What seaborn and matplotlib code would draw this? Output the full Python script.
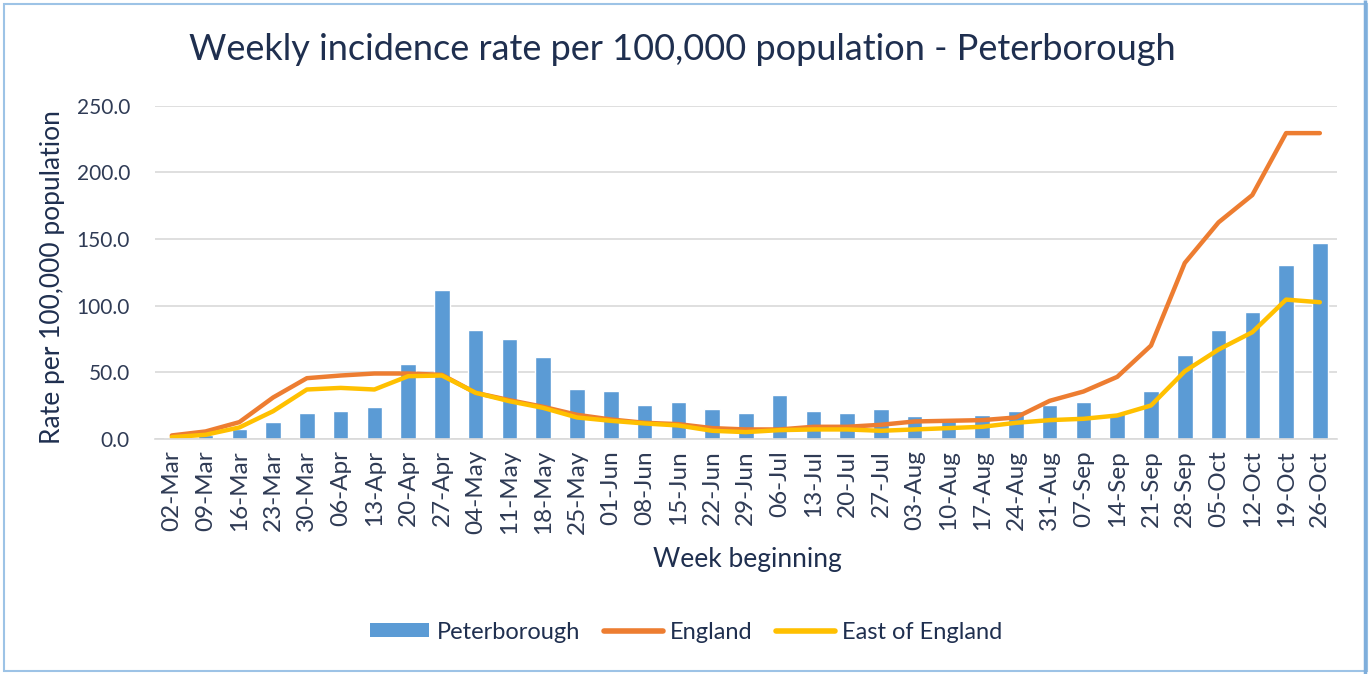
import numpy as np
import pandas as pd
import matplotlib
matplotlib.use("Agg")
import matplotlib.pyplot as plt
import seaborn as sns
from matplotlib.patches import Rectangle, Patch
from matplotlib.lines import Line2D

weeks = ["02-Mar", "09-Mar", "16-Mar", "23-Mar", "30-Mar", "06-Apr", "13-Apr", "20-Apr",
         "27-Apr", "04-May", "11-May", "18-May", "25-May", "01-Jun", "08-Jun", "15-Jun",
         "22-Jun", "29-Jun", "06-Jul", "13-Jul", "20-Jul", "27-Jul", "03-Aug", "10-Aug",
         "17-Aug", "24-Aug", "31-Aug", "07-Sep", "14-Sep", "21-Sep", "28-Sep", "05-Oct",
         "12-Oct", "19-Oct", "26-Oct"]
peterborough = [0.8, 2.5, 7.5, 12.5, 19.2, 20.7, 24.0, 56.3, 112.0, 81.5, 74.7, 61.5,
                37.7, 36.0, 25.7, 27.5, 22.5, 19.2, 32.7, 20.7, 19.2, 22.5, 17.0, 15.7,
                17.5, 20.7, 25.7, 27.5, 19.2, 36.0, 63.0, 81.7, 95.2, 130.5, 147.2]
england = [2.5, 5.5, 12.5, 31.0, 45.5, 47.5, 49.0, 49.0, 48.0, 34.5, 29.0, 24.0,
           18.0, 14.5, 12.0, 11.0, 8.0, 7.0, 7.0, 9.0, 9.0, 10.5, 13.0, 13.5,
           14.0, 16.0, 28.5, 35.5, 46.5, 70.0, 132.0, 162.5, 183.0, 229.5, 229.5]
east_of_england = [1.2, 3.0, 8.5, 20.7, 37.0, 38.2, 37.0, 47.0, 47.5, 34.5, 28.2, 23.2,
                   16.0, 13.5, 11.5, 10.0, 6.0, 5.0, 6.5, 7.0, 7.0, 6.0, 7.0, 8.0,
                   9.0, 12.0, 14.0, 15.0, 17.5, 25.0, 50.7, 67.0, 80.0, 104.5, 102.5]
y_ticks = [0, 50, 100, 150, 200, 250]

title = "Weekly incidence rate per 100,000 population - Peterborough"
xlabel = "Week beginning"
ylabel = "Rate per 100,000 population"

BAR = "#5B9BD5"
ENG = "#ED7D31"
EOE = "#FFC000"
TXT = "#1F2F4F"
TICK = "#2F3B55"
GRID = "#D9D9D9"

sns.set_theme(style="white")
plt.rcParams["font.family"] = ["Lato", "DejaVu Sans"]

df = pd.DataFrame({"week": weeks, "pos": np.arange(len(weeks)),
                   "Peterborough": peterborough, "England": england,
                   "East of England": east_of_england})

fig = plt.figure(figsize=(13.71, 6.74), dpi=100)
fig.patches.append(Rectangle((0.003, 0.004), 0.994, 0.99, transform=fig.transFigure,
                             fill=False, edgecolor="#9DC3E6", linewidth=1.5))
fig.patches.append(Rectangle((0.9955, 0.0), 0.0, 1.0, transform=fig.transFigure,
                             fill=False, edgecolor="#7FAEDB", linewidth=2.5))
ax = fig.add_axes([0.113, 0.349, 0.862, 0.494])

sns.barplot(data=df, x="pos", y="Peterborough", color=BAR, width=0.46,
            saturation=1, ax=ax, native_scale=True)
sns.lineplot(data=df, x="pos", y="England", color=ENG, linewidth=3.2, ax=ax,
             sort=False, solid_capstyle="round")
sns.lineplot(data=df, x="pos", y="East of England", color=EOE, linewidth=3.2, ax=ax,
             sort=False, solid_capstyle="round")

n = len(weeks)
ax.set_xlim(-0.5, n - 0.5)
ax.set_ylim(0, 250)
ax.set_yticks(y_ticks)
ax.set_yticklabels([f"{v:.1f}" for v in y_ticks], fontsize=15, color=TICK)
ax.set_xticks(np.arange(n))
ax.set_xticklabels(weeks, rotation=90, fontsize=17.5, color=TICK)
ax.set_xticks(np.arange(n + 1) - 0.5, minor=True)
ax.tick_params(axis="x", which="major", length=0, pad=8)
ax.tick_params(axis="x", which="minor", length=6, color=GRID, width=1.2)
ax.tick_params(axis="y", which="major", length=0, pad=18)
ax.yaxis.grid(True, color=GRID, linewidth=1.2)
ax.set_axisbelow(True)
for s in ["top", "right", "left"]:
    ax.spines[s].set_visible(False)
ax.spines["bottom"].set_color(GRID)
ax.spines["bottom"].set_linewidth(1.2)

ax.set_xlabel(xlabel, fontsize=19, color=TXT, va="center")
ax.xaxis.set_label_coords(0.5 + (748 - 155 - 591) / 1182, -0.363)
ax.set_ylabel(ylabel, fontsize=19, color=TXT, va="center")
ax.yaxis.set_label_coords(-0.0863, 0.5 + (439.3 - 278) / 333 - 0.5)
fig.text(0.498, 0.926, title, ha="center", va="center", fontsize=26, color=TXT)

handles = [Patch(facecolor=BAR, edgecolor="none"),
           Line2D([0], [0], color=ENG, linewidth=4, solid_capstyle="round"),
           Line2D([0], [0], color=EOE, linewidth=4, solid_capstyle="round")]
fig.legend(handles, ["Peterborough", "England", "East of England"], loc="center",
           bbox_to_anchor=(0.5006, 0.062), ncol=3, frameon=False, fontsize=17,
           handlelength=2.5, handleheight=0.55, columnspacing=1.0, handletextpad=0.3,
           labelcolor=TXT)

fig.savefig("out.png", dpi=100)
